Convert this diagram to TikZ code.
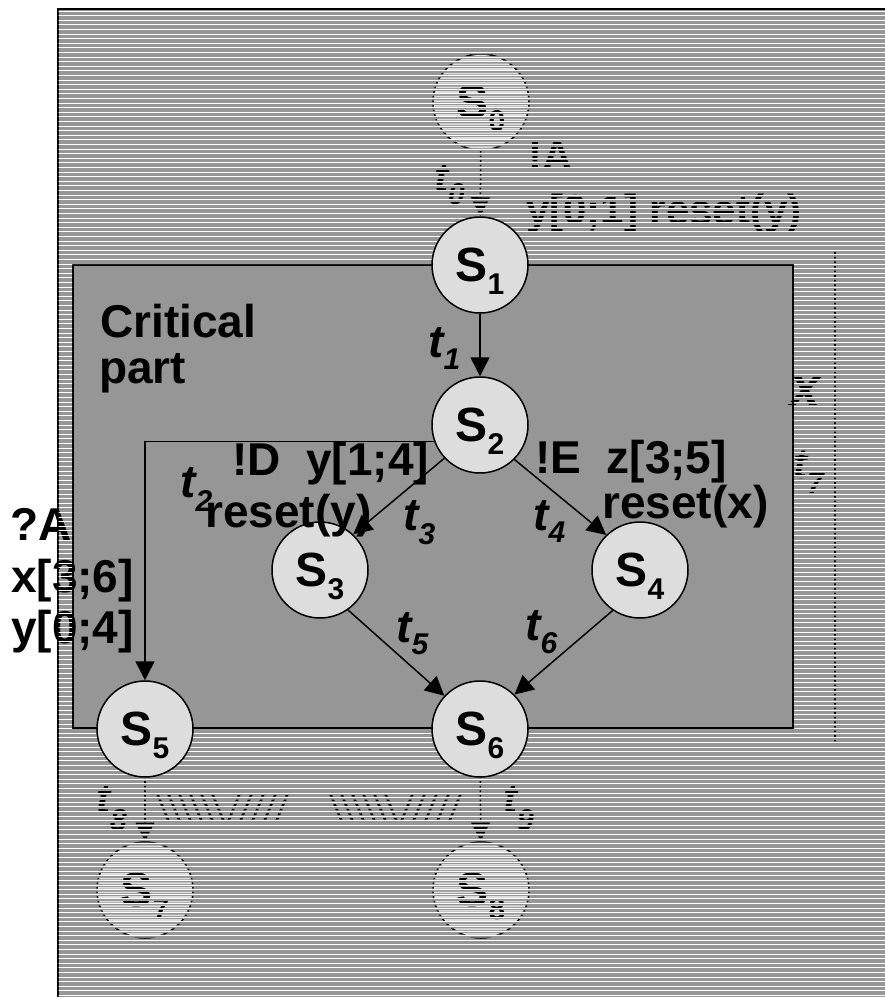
\documentclass[tikz,border=0pt]{standalone}
\usepackage{fontspec}
\setmainfont{Liberation Sans}
\usetikzlibrary{arrows.meta}
\definecolor{bggray}{RGB}{150,150,150}
\definecolor{nodefill}{RGB}{221,221,221}
\newcommand{\ssub}[2][-13pt]{\raisebox{#1}{\fontsize{30}{30}\selectfont #2}}
\begin{document}
\begin{tikzpicture}[x=1pt,y=-1pt,
  state/.style={circle, draw=black, line width=1.5pt, fill=nodefill, minimum size=96pt, inner sep=0pt, text depth=0pt, font=\fontsize{48}{48}\selectfont\bfseries},
  lbl/.style={anchor=base west, inner sep=0pt, font=\fontsize{46}{46}\selectfont\bfseries},
  tlbl/.style={anchor=base west, inner sep=0pt, font=\fontsize{46}{46}\selectfont\bfseries\itshape},
  flbl/.style={anchor=base west, inner sep=0pt, font=\fontsize{42}{42}\selectfont\bfseries},
  ftlbl/.style={anchor=base west, inner sep=0pt, font=\fontsize{42}{42}\selectfont\bfseries\itshape},
  arr/.style={-{Triangle[length=19pt,width=19pt]}, line width=1.5pt},
  stripe/.style={white, line width=1pt},
]
\useasboundingbox (0,0) rectangle (885,997);
% background frame
\fill[bggray] (57,8) rectangle (890,1002);
\draw[line width=1.5pt] (57.75,1002) -- (57.75,8.75) -- (890,8.75);
% critical part box
\draw[line width=2pt] (73,265) rectangle (793,728);
% guard labels (under the stripes)
\node[lbl] (gA) at (10,540) {?A};
\node[lbl] (gx) at (11,592) {x[3;6]};
\node[lbl] (gy) at (11,643) {y[0;4]};
% stripes outside the critical box
\begin{scope}
  \clip (58.5,9.5) rectangle (885,264) (58.5,264) rectangle (72,729)
        (794,264) rectangle (885,729) (58.5,729) rectangle (885,997);
  \foreach \k in {0,...,214} \draw[stripe] (58,{11+4.6*\k}) -- (885,{11+4.6*\k});
\end{scope}
% solid states
\node[state] (S1) at (480,265) {S\ssub{1}};
\node[state] (S2) at (480,425) {S\ssub{2}};
\node[state] (S3) at (320,570) {S\ssub{3}};
\node[state] (S4) at (640,570) {S\ssub{4}};
\node[state] (S5) at (145,729) {S\ssub{5}};
\node[state] (S6) at (480,729) {S\ssub{6}};
% solid transitions
\draw[arr] (S1) -- (S2);
\draw[arr] (S2.200) -| (S5);
\draw[arr] (S2.223) -- (S3.47);
\draw[arr] (S2.-45) -- (S4.134);
\draw[arr] (S3.-55) -- (S6.137);
\draw[arr] (S4.236) -- (S6.45);
% labels
\node[lbl] (crit) at (100,337) {Critical};
\node[lbl] (part) at (99,383) {part};
\node[lbl] (l3a) at (232,475) {!D\ \ y[1;4]};
\node[lbl] (l3b) at (205,527) {reset(y)};
\node[lbl] (l4a) at (535,473) {!E\ \ z[3;5]};
\node[lbl] (l4b) at (602,518) {reset(x)};
\node[tlbl] (t1) at (428,357) {t\ssub[-12pt]{1}};
\node[tlbl] (t2) at (180,497) {t\ssub[-14pt]{2}};
\node[tlbl] (t3) at (403,530) {t\ssub[-14pt]{3}};
\node[tlbl] (t4) at (533,530) {t\ssub[-12pt]{4}};
\node[tlbl] (t5) at (396,642) {t\ssub[-12pt]{5}};
\node[tlbl] (t6) at (525,640) {t\ssub[-13pt]{6}};
% faded (hidden) part, visible only through thin rows
\begin{scope}
  \clip \foreach \k in {0,...,214} {(58.5,{13+4.6*\k}) rectangle (885,{14.6+4.6*\k})};
  \node[state] (S0) at (481,102) {S\ssub{0}};
  \node[state] (S7) at (145,890) {S\ssub{7}};
  \node[state] (S8) at (481,890) {S\ssub{8}};
  \draw[arr] (S0) -- (S1);
  \draw[arr] (S5) -- (S7);
  \draw[arr] (S6) -- (S8);
  \node[ftlbl] (t0) at (434,192) {t\ssub[-12pt]{0}};
  \node[flbl] (fA) at (528,170) {!A};
  \node[flbl] (fy) at (526,224) {y[0;1] reset(y)};
  \node[ftlbl, font=\fontsize{54}{54}\selectfont\bfseries\itshape] (fx) at (790,405) {x};
  \node[ftlbl] (t7) at (793,478) {t\ssub[-15pt]{7}};
  \node[ftlbl] (t8) at (96,813) {t\ssub[-17pt]{8}};
  \node[ftlbl] (t9) at (503,813) {t\ssub[-17pt]{9}};
  \coordinate (d1) at (835,250);
  \coordinate (d2) at (835,743);
  \draw[line width=1.5pt] (d1) -- (d2);
  \foreach \b in {0,173} {
    \foreach \i in {0,...,5} \draw[line width=2.5pt] ({157+\b+11*\i},793) -- ({169+\b+11*\i},822);
    \foreach \i in {0,...,4} \draw[line width=2.5pt] ({228+\b+12*\i},822) -- ({240+\b+12*\i},793);
  }
\end{scope}
\end{tikzpicture}
\end{document}
